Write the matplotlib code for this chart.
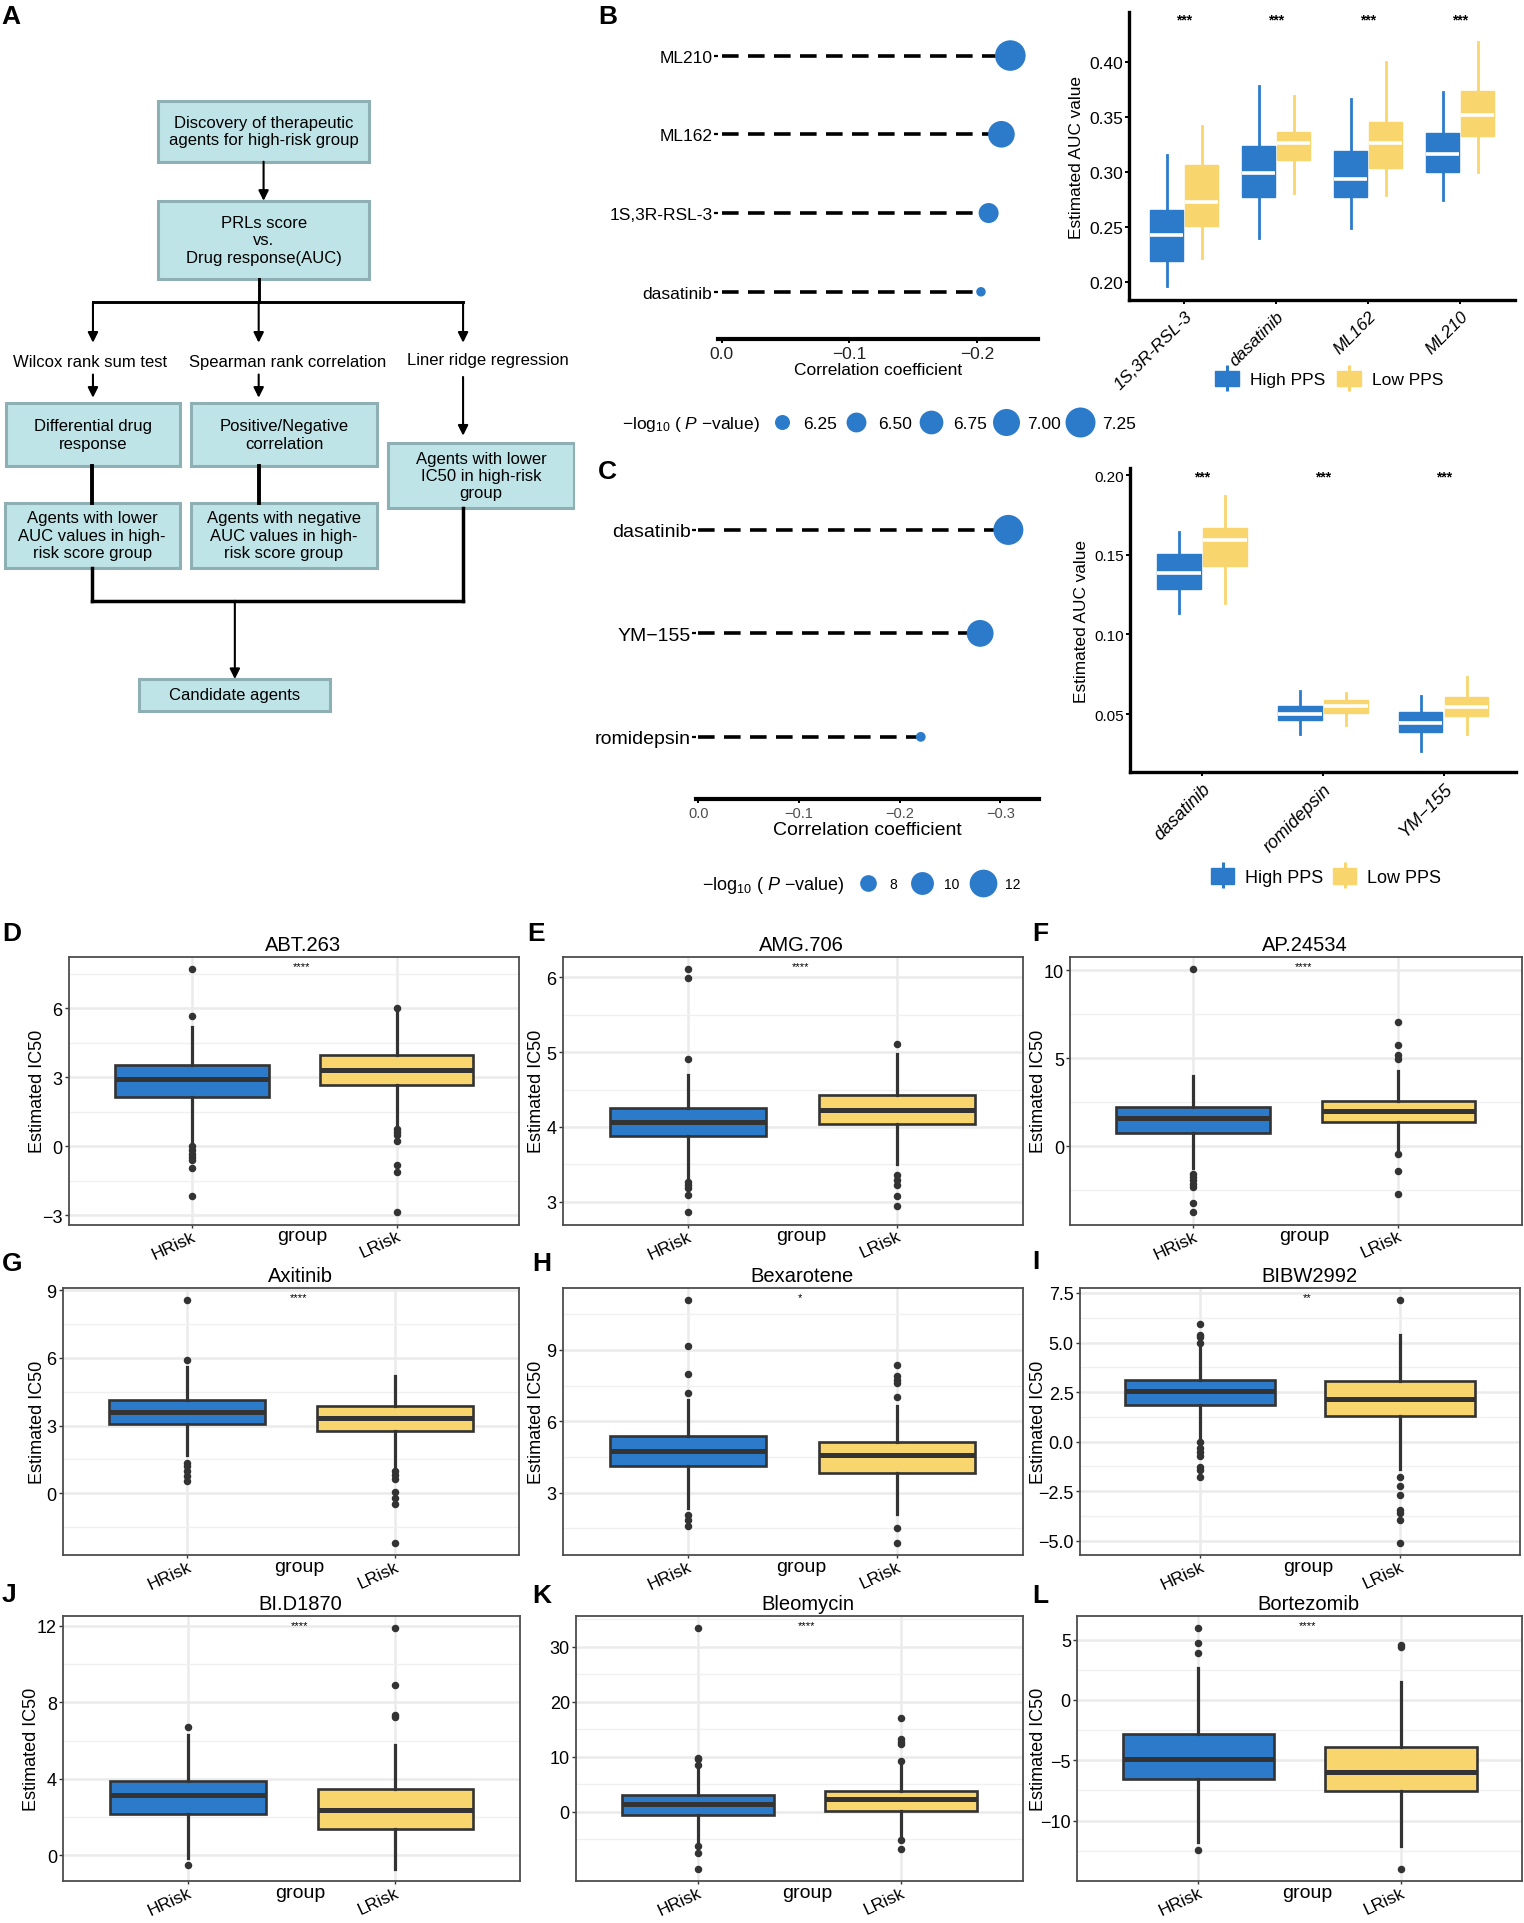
import numpy as np
import matplotlib
matplotlib.use('Agg')
import matplotlib.pyplot as plt
from matplotlib.patches import Patch, Rectangle
from matplotlib.lines import Line2D
from matplotlib.ticker import FixedLocator
from matplotlib.transforms import blended_transform_factory, ScaledTranslation

plt.rcParams['font.family'] = ['Liberation Sans', 'DejaVu Sans']
plt.rcParams['mathtext.fontset'] = 'custom'
plt.rcParams['mathtext.rm'] = 'Liberation Sans'
plt.rcParams['mathtext.it'] = 'Liberation Sans:italic'

BLUE = '#2b7bca'
YELLOW = '#f8d66d'
DARK = '#333333'
FLOW_FILL = '#bfe4e7'
FLOW_EDGE = '#8eafb3'

# ---------------- panel A: flowchart text ----------------
FLOW_TEXTS = [
    "Discovery of therapeutic\nagents for high-risk group",
    "PRLs score\nvs.\nDrug response(AUC)",
    "Differential drug\nresponse",
    "Positive/Negative\ncorrelation",
    "Agents with lower\nIC50 in high-risk\ngroup",
    "Agents with lower\nAUC values in high-\nrisk score group",
    "Agents with negative\nAUC values in high-\nrisk score group",
    "Candidate agents",
]
FLOW_METHODS = ["Wilcox rank sum test", "Spearman rank correlation",
                "Liner ridge regression"]

# ---------------- panel B ----------------
B_LOLLI_DRUGS = ['dasatinib', '1S,3R-RSL-3', 'ML162', 'ML210']   # bottom -> top
B_LOLLI_COR = [-0.203, -0.209, -0.219, -0.226]
B_LOLLI_LOGP = [6.05, 6.51, 6.97, 7.30]
B_SIZE_BREAKS = [6.25, 6.50, 6.75, 7.00, 7.25]

B_BOX_DRUGS = ['1S,3R-RSL-3', 'dasatinib', 'ML162', 'ML210']
# [whisker low, q1, median, q3, whisker high]
B_HIGH = [[0.196, 0.219, 0.2425, 0.265, 0.3155],
          [0.2395, 0.277, 0.2994, 0.3237, 0.3787],
          [0.2486, 0.2772, 0.2936, 0.3194, 0.3666],
          [0.2741, 0.2997, 0.3164, 0.3352, 0.3726]]
B_LOW = [[0.2219, 0.2507, 0.2726, 0.3067, 0.3416],
         [0.2808, 0.3106, 0.3261, 0.3365, 0.369],
         [0.279, 0.3039, 0.3264, 0.3456, 0.4006],
         [0.2997, 0.3325, 0.3523, 0.3739, 0.4182]]
B_SIG = ['***', '***', '***', '***']

# ---------------- panel C ----------------
C_LOLLI_DRUGS = ['romidepsin', 'YM\u2212155', 'dasatinib']   # bottom -> top
C_LOLLI_COR = [-0.221, -0.280, -0.308]
C_LOLLI_LOGP = [6.5, 11.6, 13.1]
C_SIZE_BREAKS = [8, 10, 12]

C_BOX_DRUGS = ['dasatinib', 'romidepsin', 'YM\u2212155']
C_HIGH = [[0.1134, 0.1285, 0.1383, 0.1504, 0.1644],
          [0.0374, 0.0464, 0.0500, 0.0552, 0.0646],
          [0.0270, 0.0385, 0.0441, 0.0510, 0.0611]]
C_LOW = [[0.1195, 0.1431, 0.1594, 0.1667, 0.1870],
         [0.0433, 0.0506, 0.0548, 0.0590, 0.0632],
         [0.0374, 0.0490, 0.0546, 0.0609, 0.0734]]
C_SIG = ['***', '***', '***']

# ---------------- panels D-L ----------------
IC50_DRUGS = ['ABT.263', 'AMG.706', 'AP.24534', 'Axitinib', 'Bexarotene',
              'BIBW2992', 'BI.D1870', 'Bleomycin', 'Bortezomib']
IC50_SIG = ['****', '****', '****', '****', '*', '**', '****', '****', '****']
GROUPS = ['HRisk', 'LRisk']
# [whisker low, q1, median, q3, whisker high]
HRISK_BOX = [[0.19, 2.16, 2.93, 3.55, 5.21],
             [3.31, 3.88, 4.07, 4.26, 4.69],
             [-1.25, 0.75, 1.60, 2.21, 3.96],
             [1.69, 3.05, 3.60, 4.15, 5.62],
             [2.35, 4.12, 4.75, 5.37, 6.89],
             [0.17, 1.87, 2.54, 3.13, 4.71],
             [-0.12, 2.17, 3.16, 3.90, 6.30],
             [-5.86, -0.60, 1.40, 2.98, 7.59],
             [-11.77, -6.51, -4.93, -2.83, 2.63]]
HRISK_OUT = [[7.72, 5.67, 0.0, -0.17, -0.32, -0.46, -0.6, -0.94, -2.15],
             [6.11, 5.99, 4.91, 3.27, 3.22, 3.19, 3.09, 2.86],
             [10.08, -1.57, -1.75, -1.94, -2.13, -2.32, -3.23, -3.77],
             [8.56, 5.93, 1.36, 1.19, 1.0, 0.75, 0.53],
             [11.08, 9.17, 7.99, 7.17, 2.07, 1.87, 1.62],
             [5.93, 5.38, 5.26, 4.96, 0.0, -0.3, -0.5, -0.71, -1.26, -1.43, -1.77],
             [6.70, -0.50],
             [33.4, 9.8, 9.56, 8.48, -6.16, -7.54, -10.47],
             [5.95, 4.73, 3.91, -12.4]]
LRISK_BOX = [[0.91, 2.68, 3.33, 3.98, 5.88],
             [3.51, 4.04, 4.23, 4.43, 4.98],
             [-0.15, 1.36, 2.02, 2.58, 4.28],
             [1.14, 2.76, 3.32, 3.89, 5.21],
             [2.12, 3.81, 4.57, 5.12, 6.65],
             [-1.38, 1.29, 2.16, 3.04, 5.38],
             [-0.73, 1.40, 2.35, 3.47, 5.78],
             [-4.67, 0.11, 2.30, 3.70, 9.08],
             [-12.1, -7.54, -5.96, -3.92, 1.45]]
LRISK_OUT = [[6.0, 0.74, 0.62, 0.5, 0.22, -0.79, -1.11, -2.87],
             [5.11, 3.36, 3.29, 3.22, 3.08, 2.95],
             [7.06, 5.77, 5.17, 4.94, -0.47, -1.43, -2.72],
             [1.0, 0.81, 0.63, 0.07, -0.22, -0.47, -2.2],
             [8.38, 7.92, 7.75, 7.61, 7.02, 1.52, 0.9],
             [7.13, -1.77, -2.22, -2.68, -3.47, -3.58, -3.94, -5.1],
             [11.88, 8.89, 7.34, 7.22],
             [16.97, 13.14, 12.67, 12.37, 9.32, -5.15, -6.76],
             [4.54, 4.35, -14.03]]
IC50_TICKS = [[-3, 0, 3, 6], [3, 4, 5, 6], [0, 5, 10], [0, 3, 6, 9], [3, 6, 9],
              [-5, -2.5, 0, 2.5, 5, 7.5], [0, 4, 8, 12], [0, 10, 20, 30],
              [-10, -5, 0, 5]]

# ---------------- layout helpers ----------------
W, H = 1246.0, 1573.0


def fr(x0, y0, x1, y1):
    """Rect in reference pixel units (top-left origin) -> figure fraction."""
    return [x0 / W, 1 - y1 / H, (x1 - x0) / W, (y1 - y0) / H]


def dot_area(v, v0, d0, v1, d1):
    """ggplot-like size scale: area linear in value (d in px) -> pt^2."""
    a = d0 ** 2 + (np.asarray(v, float) - v0) * (d1 ** 2 - d0 ** 2) / (v1 - v0)
    return a * 0.72 ** 2


fig = plt.figure(figsize=(15.24, 19.24), dpi=100)

# ================= A: flowchart =================
ax_a = fig.add_axes(fr(0, 0, 470, 592))
ax_a.set_xlim(0, 470)
ax_a.set_ylim(592, 0)
ax_a.axis('off')

flow_rects = [(129, 83, 302, 133), (129, 165, 302, 229), (4.7, 330, 147, 382),
              (156.4, 330, 308, 382), (317.6, 363, 469, 416), (3.8, 412, 147, 465),
              (156, 412, 308, 465), (114, 556, 270, 582)]
for (x0, y0, x1, y1), txt in zip(flow_rects, FLOW_TEXTS):
    ax_a.add_patch(Rectangle((x0, y0), x1 - x0, y1 - y0, facecolor=FLOW_FILL,
                             edgecolor=FLOW_EDGE, lw=2.2))
    ax_a.text((x0 + x1) / 2, (y0 + y1) / 2, txt, ha='center', va='center',
              fontsize=12, linespacing=1.2)

for txt, (x, y) in zip(FLOW_METHODS, [(74, 296), (235, 296), (399, 295)]):
    ax_a.text(x, y, txt, ha='center', va='center', fontsize=12)


def seg(x0, y0, x1, y1, lw=2.1):
    ax_a.plot([x0, x1], [y0, y1], color='black', lw=lw, solid_capstyle='projecting')


def arrow(x0, y0, x1, y1, lw=1.5):
    ax_a.annotate('', xy=(x1, y1), xytext=(x0, y0),
                  arrowprops=dict(arrowstyle='-|>,head_length=0.5,head_width=0.25',
                                  color='black', lw=lw, shrinkA=0, shrinkB=0,
                                  mutation_scale=12))


arrow(215.5, 133, 215.5, 165)
seg(211.5, 229, 211.5, 248)
seg(76, 248, 378.6, 248)
for x in (76, 211.5, 378.6):
    arrow(x, 248, x, 281)
arrow(76, 307, 76, 326)
arrow(211.5, 307, 211.5, 326)
arrow(378.6, 309, 378.6, 357)
seg(75, 382, 75, 412, lw=2.8)
seg(211.5, 382, 211.5, 412, lw=2.8)
seg(75, 465, 75, 492, lw=2.5)
seg(378.6, 416, 378.6, 492, lw=2.5)
seg(75, 492, 378.6, 492, lw=2.5)
arrow(192, 492, 192, 556)


# ================= lollipop helper =================
def lollipop(ax, drugs, cor, logp, area_fn, xlim, xticks, lab_fs, tick_fs, tick_col):
    y = np.arange(len(drugs))
    ax.hlines(y, 0, cor, colors='black', linestyles=(0, (4.6, 2.6)), linewidth=2.6)
    ax.scatter(cor, y, s=area_fn(logp), color=BLUE, edgecolors='none', zorder=3)
    ax.set_xlim(*xlim)
    ax.set_ylim(-0.6, len(drugs) - 0.4)
    for s in ('left', 'top', 'right'):
        ax.spines[s].set_visible(False)
    ax.spines['bottom'].set_linewidth(3.0)
    ax.set_yticks(y, drugs, fontsize=lab_fs)
    ax.set_xticks(xticks)
    ax.tick_params(axis='y', length=3, width=1.6, pad=1)
    ax.tick_params(axis='x', length=3, width=1.4, pad=2, labelsize=tick_fs,
                   labelcolor=tick_col)
    ax.set_xlabel('Correlation coefficient', fontsize=lab_fs, labelpad=1)
    ax.patch.set_alpha(0)


def pps_boxes(ax, drugs, high, low, sig, sig_y, ylim, yticks, tick_fs, lab_fs):
    pos = np.arange(1, len(drugs) + 1)
    for stats, off, col in ((high, -0.19, BLUE), (low, 0.19, YELLOW)):
        bx = [dict(whislo=s[0], q1=s[1], med=s[2], q3=s[3], whishi=s[4], fliers=[])
              for s in stats]
        ax.bxp(bx, positions=pos + off, widths=0.36, patch_artist=True,
               showfliers=False, showcaps=False, manage_ticks=False,
               boxprops=dict(facecolor=col, edgecolor=col, lw=1.0),
               whiskerprops=dict(color=col, lw=2.0),
               medianprops=dict(color='white', lw=2.6))
    for p, s in zip(pos, sig):
        ax.text(p, sig_y, s, ha='center', va='center', fontsize=10, fontweight='bold')
    ax.set_xlim(0.4, len(drugs) + 0.6)
    ax.set_ylim(*ylim)
    for s in ('top', 'right'):
        ax.spines[s].set_visible(False)
    for s in ('left', 'bottom'):
        ax.spines[s].set_linewidth(2.4)
    ax.set_yticks(yticks)
    ax.set_xticks(pos)
    ax.set_xticklabels(drugs, rotation=45, ha='right', va='top',
                       rotation_mode='anchor', fontstyle='italic', fontsize=lab_fs)
    ax.tick_params(axis='y', length=3, width=1.4, pad=1, labelsize=tick_fs)
    ax.tick_params(axis='x', length=3, width=1.4, pad=3)
    ax.set_ylabel('Estimated AUC value', fontsize=12.4, labelpad=4)


def pps_legend(x, y, fs, hl, tp, cs):
    handles = [(Patch(facecolor=c, edgecolor=c),
                Line2D([], [], ls='', marker='|', ms=fs * 1.45, mew=2.2, color=c))
               for c in (BLUE, YELLOW)]
    fig.legend(handles, ['High PPS', 'Low PPS'], ncol=2, loc='center left',
               bbox_to_anchor=(x / W, 1 - y / H), frameon=False, fontsize=fs,
               handlelength=hl, handleheight=1.0, handletextpad=tp,
               columnspacing=cs, borderpad=0, borderaxespad=0)


def size_legend(breaks, labels, area_fn, x_title, x_anchor, y, title_fs, fs, hl, tp, cs):
    handles = [Line2D([], [], ls='', marker='o', ms=float(np.sqrt(area_fn(v))),
                      mfc=BLUE, mec='none') for v in breaks]
    fig.legend(handles, labels, ncol=len(breaks), loc='center left',
               bbox_to_anchor=(x_anchor / W, 1 - y / H), frameon=False, fontsize=fs,
               handlelength=hl, handletextpad=tp, columnspacing=cs,
               borderpad=0, borderaxespad=0)
    fig.text(x_title / W, 1 - y / H,
             '\u2212log$_{10}$ ( $\\mathit{P}$ \u2212value)',
             ha='right', va='center', fontsize=title_fs)


def area_b(v):
    return dot_area(v, 6.25, 15.0, 7.25, 30.0)


def area_c(v):
    return dot_area(v, 8.0, 16.7, 12.0, 27.7)


# ================= B =================
ax_bl = fig.add_axes(fr(587, 7.6, 849, 278))
lollipop(ax_bl, B_LOLLI_DRUGS, B_LOLLI_COR, B_LOLLI_LOGP, area_b,
         (0.003, -0.248), [0, -0.1, -0.2], 12.5, 12.5, '#222222')
size_legend(B_SIZE_BREAKS, [f'{v:.2f}' for v in B_SIZE_BREAKS], area_b,
            621, 627.6, 347, 12.5, 12.5, 1.6, 0.47, 0.28)

ax_br = fig.add_axes(fr(923, 11, 1239, 246))
pps_boxes(ax_br, B_BOX_DRUGS, B_HIGH, B_LOW, B_SIG, 0.4388, (0.1833, 0.4455),
          [0.20, 0.25, 0.30, 0.35, 0.40], 12.5, 12.5)
pps_legend(993.5, 310.7, 12.5, 1.36, 0.65, 0.7)

# ================= C =================
ax_cl = fig.add_axes(fr(569, 383.3, 849.6, 654))
lollipop(ax_cl, C_LOLLI_DRUGS, C_LOLLI_COR, C_LOLLI_LOGP, area_c,
         (0.0023, -0.3386), [0, -0.1, -0.2, -0.3], 14, 10.5, '#4d4d4d')
size_legend(C_SIZE_BREAKS, [str(v) for v in C_SIZE_BREAKS], area_c,
            691, 697.3, 723.6, 13, 10, 2.2, 0.46, 0.65)

ax_cr = fig.add_axes(fr(923.6, 383.6, 1239.6, 632))
pps_boxes(ax_cr, C_BOX_DRUGS, C_HIGH, C_LOW, C_SIG, 0.199, (0.0136, 0.2043),
          [0.05, 0.10, 0.15, 0.20], 11, 13)
pps_legend(990, 718, 13, 1.29, 0.61, 0.54)

# ================= D-L =================
IC50_RECTS = [(56.4, 783, 424.6, 1002), (460, 783, 836, 1002), (875, 783, 1244, 1002),
              (51.2, 1054, 424.6, 1272), (460, 1054, 836, 1272), (883, 1054, 1243, 1272),
              (51.8, 1322, 425, 1539), (471, 1322, 836, 1539), (880.6, 1322, 1244.4, 1539)]
YLAB_X = [30.7, 439, 849, 30.7, 439, 849, 25.7, None, 849]
label_shift = ScaledTranslation(4 / 72, 0, fig.dpi_scale_trans)

for i, drug in enumerate(IC50_DRUGS):
    ax = fig.add_axes(fr(*IC50_RECTS[i]))
    stats = []
    for box, out in ((HRISK_BOX[i], HRISK_OUT[i]), (LRISK_BOX[i], LRISK_OUT[i])):
        stats.append(dict(whislo=box[0], q1=box[1], med=box[2], q3=box[3],
                          whishi=box[4], fliers=out))
    art = ax.bxp(stats, positions=[1, 2], widths=0.75, patch_artist=True,
                 showcaps=False, manage_ticks=False,
                 boxprops=dict(edgecolor=DARK, lw=1.9),
                 whiskerprops=dict(color=DARK, lw=2.3),
                 medianprops=dict(color=DARK, lw=3.6),
                 flierprops=dict(marker='o', mfc=DARK, mec=DARK, ms=4.4))
    for patch, col in zip(art['boxes'], (BLUE, YELLOW)):
        patch.set_facecolor(col)

    vals = np.concatenate([HRISK_BOX[i], HRISK_OUT[i], LRISK_BOX[i], LRISK_OUT[i]])
    lo, hi = vals.min(), vals.max()
    pad = 0.05 * (hi - lo)
    ax.set_ylim(lo - pad, hi + pad)
    ax.set_xlim(0.4, 2.6)

    ticks = IC50_TICKS[i]
    step = ticks[1] - ticks[0]
    minor = [t + step / 2 for t in [ticks[0] - step] + ticks]
    ax.set_yticks(ticks)
    ax.yaxis.set_minor_locator(FixedLocator(minor))
    ax.set_xticks([1, 2])
    ax.set_xticklabels(GROUPS, rotation=25, ha='right', va='top',
                       rotation_mode='anchor', fontsize=12.5)
    for lab in ax.get_xticklabels():
        lab.set_transform(lab.get_transform() + label_shift)
    ax.tick_params(axis='y', which='major', length=3, width=1.0, color=DARK,
                   labelsize=13, pad=1.5)
    ax.tick_params(axis='x', which='major', length=2.5, width=1.0, color=DARK,
                   pad=0)
    ax.tick_params(axis='y', which='minor', length=0)
    ax.set_axisbelow(True)
    ax.grid(True, which='major', color='#ebebeb', lw=1.8)
    ax.grid(True, which='minor', axis='y', color='#f0f0f0', lw=1.0)
    for s in ax.spines.values():
        s.set_color('#4d4d4d')
        s.set_linewidth(1.3)

    ax.set_title(drug, fontsize=14.5, pad=5, x=0.52)
    ax.text(0.517, 0.985, IC50_SIG[i], transform=ax.transAxes, ha='center',
            va='top', fontsize=8)
    ax.set_xlabel('group', fontsize=14)
    ax.xaxis.set_label_coords(0.518, -0.01)
    if YLAB_X[i] is not None:
        ax.set_ylabel('Estimated IC50', fontsize=13, va='center')
        ax.yaxis.set_label_coords(YLAB_X[i] / W, 0.5,
                                  transform=blended_transform_factory(fig.transFigure,
                                                                      ax.transAxes))

# ================= panel letters =================
LETTER_POS = {'A': (1.5, 4), 'B': (489, 4), 'C': (489, 376), 'D': (1.5, 754),
              'E': (431, 754), 'F': (844, 754), 'G': (1.5, 1024), 'H': (435, 1024),
              'I': (844, 1022), 'J': (1.5, 1294), 'K': (435, 1295), 'L': (844, 1295)}
for letter, (x, y) in LETTER_POS.items():
    fig.text(x / W, 1 - y / H, letter, ha='left', va='top', fontsize=19,
             fontweight='bold')

fig.savefig('out.png', dpi=100)
